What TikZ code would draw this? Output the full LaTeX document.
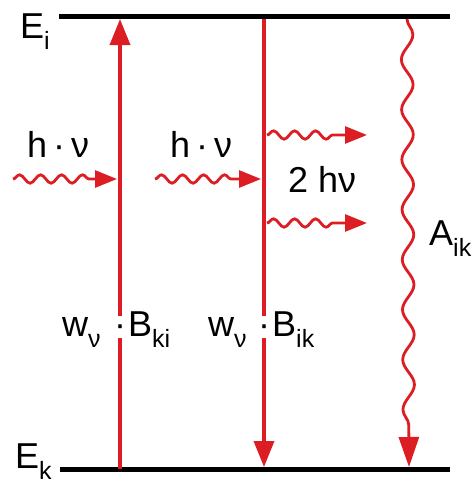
\documentclass[tikz,border=0pt]{standalone}
\usepackage{fontspec}
\setmainfont{Liberation Sans}
\usetikzlibrary{arrows.meta,decorations.pathmorphing}
\definecolor{lred}{RGB}{220,30,36}
\newcommand{\lowsub}[1]{\raisebox{-0.32em}{\fontsize{25}{25}\selectfont #1}}
\begin{document}
\begin{tikzpicture}[x=1pt,y=-1pt,
  lbl/.style={font=\fontsize{36}{40}\selectfont, inner sep=0pt, anchor=base west},
  level/.style={line width=5pt, black},
  trans/.style={line width=3.5pt, lred, -{Triangle[length=26pt,width=20pt]}},
  photon/.style={line width=2.8pt, lred, -{Triangle[length=22pt,width=17pt]}, decorate,
    decoration={snake, amplitude=4.2pt, segment length=21pt, post length=25pt}},
  spont/.style={line width=2.8pt, lred, -{Triangle[length=30pt,width=20pt]}, decorate,
    decoration={snake, amplitude=5.8pt, segment length=50pt, post length=36pt}},
  dotbox/.style={font=\fontsize{36}{40}\selectfont, fill=white, inner ysep=0pt, inner xsep=1.5pt,
    text height=20pt, text depth=2pt, anchor=base}]
\useasboundingbox (0,0) rectangle (473,480);
% levels
\coordinate (EiL) at (59,16.5);
\coordinate (EiR) at (450,16.5);
\coordinate (EkL) at (60,469);
\coordinate (EkR) at (450,469);
\draw[level] (EiL) -- (EiR);
\draw[level] (EkL) -- (EkR);
\node[lbl] (Ei) at (20,38) {E\lowsub{i}};
\node[lbl] (Ek) at (15,468) {E\lowsub{k}};
% absorption
\coordinate (a0) at (120,469);
\coordinate (a1) at (120,19);
\draw[trans] (a0) -- (a1);
% stimulated emission
\coordinate (s0) at (264,19);
\coordinate (s1) at (264,467);
\draw[trans] (s0) -- (s1);
% spontaneous emission
\coordinate (p0) at (407,19);
\coordinate (p1) at (409,467);
\draw[spont] (p0) -- (p1);
\node[lbl] (A) at (429,245) {A\lowsub{ik}};
% incoming photons
\coordinate (h1a) at (13,179);
\coordinate (h1b) at (117,179);
\draw[photon] (h1a) -- (h1b);
\node[lbl] (hv1) at (27,157) {h\,·\,ν};
\coordinate (h2a) at (155,179);
\coordinate (h2b) at (261,179);
\draw[photon] (h2a) -- (h2b);
\node[lbl] (hv2) at (170,157) {h\,·\,ν};
% outgoing photons
\coordinate (o1a) at (267,135);
\coordinate (o1b) at (367,135);
\draw[photon] (o1a) -- (o1b);
\coordinate (o2a) at (267,223);
\coordinate (o2b) at (367,223);
\draw[photon] (o2a) -- (o2b);
\node[lbl] (hv3) at (288,192) {2 hν};
% Einstein coefficients
\node[lbl] (w1) at (62,336) {w\lowsub{ν}};
\node[dotbox] (d1) at (120,336) {·};
\node[lbl] (B1) at (128,336) {B\lowsub{ki}};
\node[lbl] (w2) at (208,336) {w\lowsub{ν}};
\node[dotbox] (d2) at (264,336) {·};
\node[lbl] (B2) at (272,336) {B\lowsub{ik}};
\end{tikzpicture}
\end{document}
